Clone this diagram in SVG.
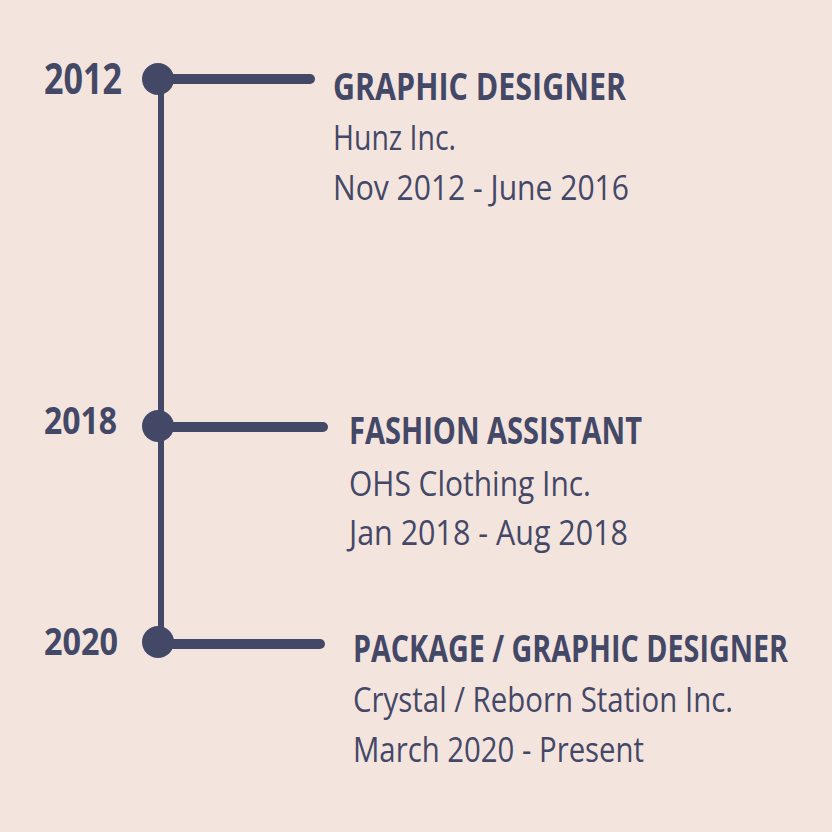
<svg xmlns="http://www.w3.org/2000/svg" width="832" height="832" viewBox="0 0 832 832">
<style>
.bg{fill:#f4e4de}
.dot{fill:#444867}
.ln{stroke:#444867;stroke-linecap:round;fill:none}
text{font-family:"Open Sans","DejaVu Sans Condensed",sans-serif;fill:#444867}
.yr{font-weight:bold;font-size:38px}
.tt{font-weight:bold;font-size:38px}
.bd{font-size:35px}
</style>
<rect class="bg" x="0" y="0" width="832" height="832"/>
<g id="connectors">
<line class="ln" x1="161" y1="79" x2="161" y2="642" stroke-width="6"/>
<line class="ln" x1="158" y1="79" x2="310" y2="79" stroke-width="10"/>
<line class="ln" x1="158" y1="427" x2="323" y2="427" stroke-width="10"/>
<line class="ln" x1="158" y1="644" x2="320" y2="644" stroke-width="10"/>
</g>
<g id="node-2012">
<circle class="dot" cx="158" cy="79" r="16"/>
<text class="yr" x="44" y="94" style="font-size:43px" textLength="78" lengthAdjust="spacingAndGlyphs">2012</text>
<text class="tt" x="333" y="100" textLength="293" lengthAdjust="spacingAndGlyphs">GRAPHIC DESIGNER</text>
<text class="bd" x="333" y="150" textLength="123" lengthAdjust="spacingAndGlyphs">Hunz Inc.</text>
<text class="bd" x="333" y="200" textLength="296" lengthAdjust="spacingAndGlyphs">Nov 2012 - June 2016</text>
</g>
<g id="node-2018">
<circle class="dot" cx="158" cy="426" r="16"/>
<text class="yr" x="44" y="434" textLength="73" lengthAdjust="spacingAndGlyphs">2018</text>
<text class="tt" x="349" y="444" textLength="293" lengthAdjust="spacingAndGlyphs">FASHION ASSISTANT</text>
<text class="bd" x="349" y="496" textLength="242" lengthAdjust="spacingAndGlyphs">OHS Clothing Inc.</text>
<text class="bd" x="349" y="545" textLength="279" lengthAdjust="spacingAndGlyphs">Jan 2018 - Aug 2018</text>
</g>
<g id="node-2020">
<circle class="dot" cx="158" cy="642" r="16"/>
<text class="yr" x="44" y="655" textLength="74" lengthAdjust="spacingAndGlyphs">2020</text>
<text class="tt" transform="translate(353 662) scale(0.75 1)" x="0" y="0" textLength="580" lengthAdjust="spacingAndGlyphs">PACKAGE / GRAPHIC DESIGNER</text>
<text class="bd" x="353" y="712" textLength="380" lengthAdjust="spacingAndGlyphs">Crystal / Reborn Station Inc.</text>
<text class="bd" x="353" y="762" textLength="291" lengthAdjust="spacingAndGlyphs">March 2020 - Present</text>
</g>
</svg>
